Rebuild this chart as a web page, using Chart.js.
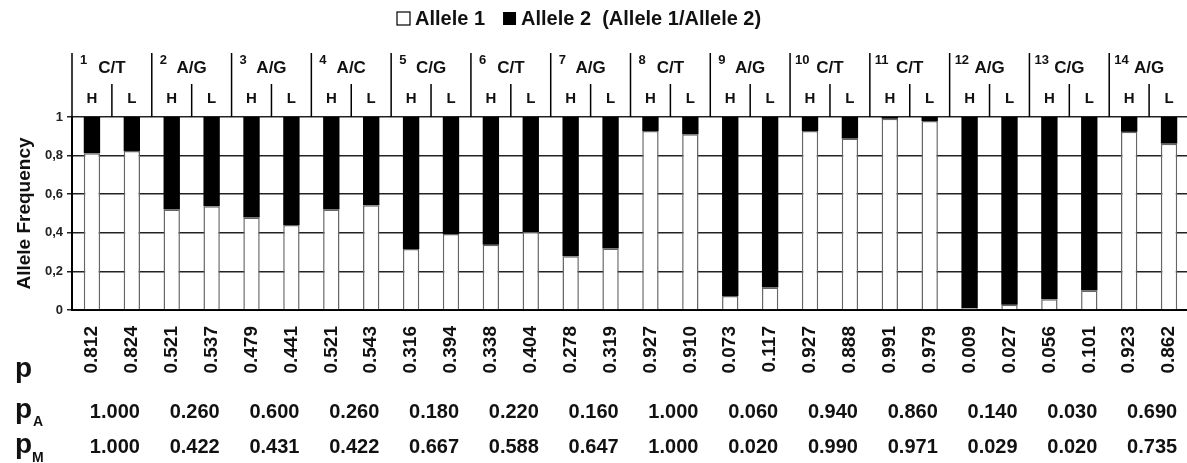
<!DOCTYPE html>
<html>
<head>
<meta charset="utf-8">
<script src="https://cdn.jsdelivr.net/npm/chart.js@4/dist/chart.umd.min.js"></script>
<style>
  html, body { margin: 0; padding: 0; background: #fff; overflow: hidden; }
  #wrap { width: 1190px; height: 463px; position: relative; }
</style>
</head>
<body>
<div id="wrap"><canvas id="chart"></canvas></div>
<script>
const FONT = "'Liberation Sans', Arial, sans-serif";
Chart.defaults.font.family = FONT;
Chart.defaults.font.weight = "bold";
Chart.defaults.color = "#111";

// SNPs (14), two groups each (H / L)
const snpNumbers = [1, 2, 3, 4, 5, 6, 7, 8, 9, 10, 11, 12, 13, 14];
const snpAlleles = ["C/T", "A/G", "A/G", "A/C", "C/G", "C/T", "A/G", "C/T", "A/G", "C/T", "C/T", "A/G", "C/G", "A/G"];
const groups = ["H", "L"];

// allele 1 frequency per bar (also the p row)
const allele1 = [0.812, 0.824, 0.521, 0.537, 0.479, 0.441, 0.521, 0.543, 0.316, 0.394, 0.338, 0.404, 0.278, 0.319,
                 0.927, 0.910, 0.073, 0.117, 0.927, 0.888, 0.991, 0.979, 0.009, 0.027, 0.056, 0.101, 0.923, 0.862];
// allele 2 frequency per bar
const allele2 = [0.188, 0.176, 0.479, 0.463, 0.521, 0.559, 0.479, 0.457, 0.684, 0.606, 0.662, 0.596, 0.722, 0.681,
                 0.073, 0.090, 0.927, 0.883, 0.073, 0.112, 0.009, 0.021, 0.991, 0.973, 0.944, 0.899, 0.077, 0.138];
// tick labels under the bars
const pLabels = ["0.812", "0.824", "0.521", "0.537", "0.479", "0.441", "0.521", "0.543", "0.316", "0.394", "0.338", "0.404", "0.278", "0.319",
                 "0.927", "0.910", "0.073", "0.117", "0.927", "0.888", "0.991", "0.979", "0.009", "0.027", "0.056", "0.101", "0.923", "0.862"];
// per SNP rows
const pA = ["1.000", "0.260", "0.600", "0.260", "0.180", "0.220", "0.160", "1.000", "0.060", "0.940", "0.860", "0.140", "0.030", "0.690"];
const pM = ["1.000", "0.422", "0.431", "0.422", "0.667", "0.588", "0.647", "1.000", "0.020", "0.990", "0.971", "0.029", "0.020", "0.735"];

// header (SNP names + H/L), legend and the p / pA / pM rows
const extras = {
  id: "extras",
  afterDraw(chart) {
    const ctx = chart.ctx;
    const x = chart.scales.x;
    const top = chart.chartArea.top;
    ctx.save();
    ctx.fillStyle = "#111";
    ctx.strokeStyle = "#000";
    ctx.lineWidth = 1.5;

    for (let i = 0; i < snpNumbers.length; i++) {
      const sep = x.getPixelForValue(2 * i - 0.5);
      const mid = x.getPixelForValue(2 * i + 0.5);
      ctx.beginPath();
      ctx.moveTo(sep, 53); ctx.lineTo(sep, top);
      ctx.moveTo(mid, 84); ctx.lineTo(mid, top);
      ctx.stroke();

      // SNP label
      ctx.textBaseline = "alphabetic";
      ctx.textAlign = "center";
      ctx.font = "bold 17px " + FONT;
      ctx.fillText(snpAlleles[i], mid, 73);
      ctx.textAlign = "left";
      ctx.font = "bold 13px " + FONT;
      ctx.fillText(String(snpNumbers[i]), sep + (snpNumbers[i] < 10 ? 8 : 5), 64);

      // H / L
      ctx.textAlign = "center";
      ctx.font = "bold 15px " + FONT;
      groups.forEach((g, j) => ctx.fillText(g, x.getPixelForValue(2 * i + j), 103));

      // pA / pM values
      ctx.font = "bold 20px " + FONT;
      ctx.fillText(pA[i], mid + 3, 418);
      ctx.fillText(pM[i], mid + 3, 453);
    }

    // row names
    ctx.textAlign = "left";
    ctx.font = "bold 28px " + FONT;
    ctx.fillText("p", 15, 377);
    ctx.fillText("p", 15, 418);
    ctx.fillText("p", 15, 453);
    ctx.font = "bold 14px " + FONT;
    ctx.fillText("A", 33, 426);
    ctx.fillText("M", 32, 462);

    // legend
    ctx.font = "bold 20px " + FONT;
    ctx.lineWidth = 1.2;
    ctx.fillStyle = "#fff";
    ctx.fillRect(397, 12, 13, 13);
    ctx.strokeRect(397, 12, 13, 13);
    ctx.fillStyle = "#111";
    const t1 = "Allele 1";
    ctx.fillText(t1, 415, 25);
    const bx = 415 + ctx.measureText(t1).width + 18;
    ctx.fillStyle = "#000";
    ctx.fillRect(bx, 12, 13, 13);
    ctx.fillStyle = "#111";
    ctx.fillText("Allele 2  (Allele 1/Allele 2)", bx + 18, 25);
    ctx.restore();
  }
};

new Chart(document.getElementById("chart"), {
  type: "bar",
  data: {
    labels: pLabels,
    datasets: [
      {
        label: "Allele 1",
        data: allele1,
        backgroundColor: "#fff",
        borderColor: "#666",
        borderWidth: 1.5,
        barPercentage: 0.41,
        categoryPercentage: 1
      },
      {
        label: "Allele 2",
        data: allele2,
        backgroundColor: "#000",
        borderWidth: 0,
        barPercentage: 0.41,
        categoryPercentage: 1
      }
    ]
  },
  options: {
    responsive: true,
    maintainAspectRatio: false,
    animation: false,
    layout: { padding: { top: 117, bottom: 73, left: 0, right: 1 } },
    plugins: { legend: { display: false }, tooltip: { enabled: false } },
    scales: {
      x: {
        stacked: true,
        grid: { display: false, drawTicks: false },
        border: { display: true, color: "#000", width: 2 },
        ticks: {
          autoSkip: false, minRotation: 90, maxRotation: 90, padding: 16,
          font: { size: 19, weight: "bold" }, color: "#111"
        },
        afterFit(s) { s.height = 80; s.paddingLeft = 0; s.paddingRight = 0; }
      },
      y: {
        stacked: true,
        min: 0, max: 1,
        grid: { color: "#222", lineWidth: 1.5, tickLength: 5 },
        border: { display: true, color: "#000", width: 2 },
        ticks: {
          stepSize: 0.2, padding: 4,
          font: { size: 13, weight: "bold" }, color: "#222",
          callback: v => (v === 0 || v === 1) ? String(v) : v.toFixed(1).replace(".", ",")
        },
        title: {
          display: true, text: "Allele Frequency",
          font: { size: 19, weight: "bold" }, color: "#111",
          padding: { top: 13, bottom: 0 }
        },
        afterFit(s) { s.width = 72; }
      }
    }
  },
  plugins: [extras]
});
</script>
</body>
</html>
